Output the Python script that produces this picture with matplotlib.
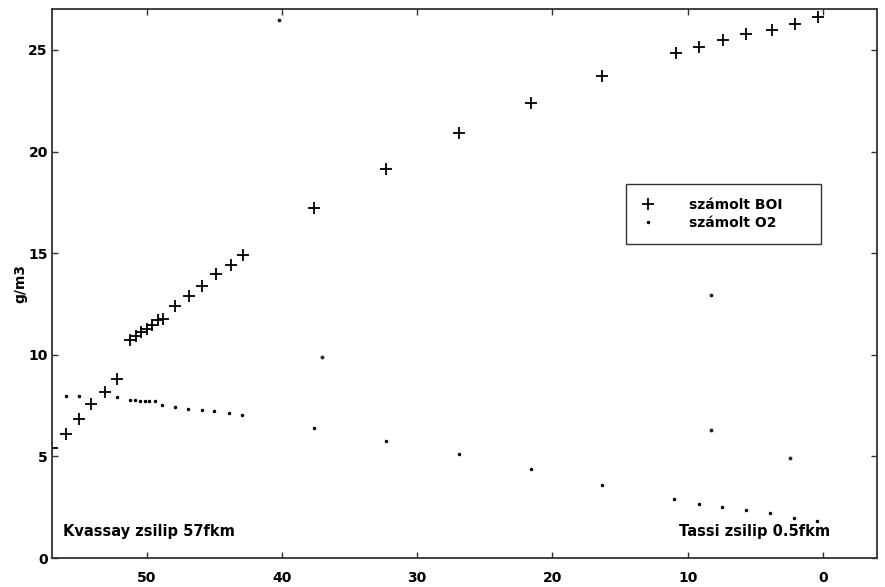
import matplotlib.pyplot as plt

plt.rcParams['font.family'] = ['DejaVu Sans']
plt.rcParams['font.weight'] = 'bold'

# folyamkilometer es szamolt BOI (g/m3)
boi_km = [57.0, 56.0, 55.0, 54.1, 53.1, 52.2,
          51.2, 50.8, 50.4, 50.0, 49.6, 49.2, 48.8,
          47.9, 46.9, 45.9, 44.9, 43.8, 42.85,
          37.6, 32.3, 26.9, 21.6, 16.3, 10.9, 9.2, 7.4, 5.7, 3.8, 2.05, 0.35]
boi = [5.42, 6.1, 6.83, 7.59, 8.18, 8.8,
       10.74, 10.94, 11.1, 11.27, 11.48, 11.69, 11.76,
       12.38, 12.9, 13.37, 13.97, 14.43, 14.93,
       17.2, 19.16, 20.92, 22.4, 23.74, 24.83, 25.14, 25.47, 25.8, 26.0, 26.3, 26.6]

# szamolt oldott oxigen (g/m3)
o2_km = [56.0, 55.0, 52.2,
         51.25, 50.9, 50.5, 50.15, 49.8, 49.4, 48.9,
         47.9, 46.95, 45.9, 45.0, 43.9, 42.95,
         37.6, 32.3, 26.9, 21.6, 16.3, 11.0, 9.2, 7.45, 5.7, 3.9, 2.15, 0.42]
o2 = [7.98, 7.98, 7.9,
      7.75, 7.75, 7.74, 7.74, 7.73, 7.72, 7.52,
      7.42, 7.34, 7.29, 7.21, 7.13, 7.04,
      6.42, 5.78, 5.11, 4.4, 3.6, 2.89, 2.66, 2.53, 2.36, 2.2, 1.96, 1.84]

# egyedi pontok jelmagyarazat nelkul
egyeb_km = [40.2, 37.05, 8.3, 8.3, 2.44]
egyeb = [26.47, 9.9, 12.96, 6.3, 4.93]

fig = plt.figure(figsize=(8.85, 5.87), dpi=100)
ax = fig.add_axes([0.0588, 0.0494, 0.9322, 0.9348])

ax.plot(boi_km, boi, linestyle='none', marker='+', color='black',
        markersize=8.5, markeredgewidth=1.3, label='számolt BOI')
ax.plot(o2_km, o2, linestyle='none', marker='.', color='black',
        markersize=3, label='számolt O2')
ax.plot(egyeb_km, egyeb, linestyle='none', marker='.', color='#222222',
        markersize=3.5)

ax.set_xlim(57, -4)
ax.set_ylim(0, 27)
ax.set_xticks([50, 40, 30, 20, 10, 0])
ax.set_yticks([0, 5, 10, 15, 20, 25])

for side in ['left', 'right', 'top', 'bottom']:
    ax.spines[side].set_color('#333333')
    ax.spines[side].set_linewidth(1.3)
ax.tick_params(direction='in', top=True, right=True, length=4, width=1,
               color='#333333', labelsize=10)
ax.tick_params(axis='x', pad=9)
ax.tick_params(axis='y', pad=3)

ax.set_ylabel('g/m3', fontsize=10, fontweight='bold')
ax.yaxis.set_label_coords(-0.030, 0.5)

ax.text(56.2, 1.3, 'Kvassay zsilip 57fkm', fontsize=10.5, fontweight='bold',
        ha='left', va='center')
ax.text(-0.5, 1.3, 'Tassi zsilip 0.5fkm', fontsize=10.5, fontweight='bold',
        ha='right', va='center')

leg = ax.legend(loc='upper left', bbox_to_anchor=(0.707, 0.5865, 0.221, 0.1),
                bbox_transform=fig.transFigure, mode='expand', borderaxespad=0,
                fancybox=False, edgecolor='black', fontsize=10,
                borderpad=1.0, handlelength=1.2, handletextpad=2.35,
                labelspacing=0.3, markerscale=1.0)
leg.get_frame().set_linewidth(1.0)

fig.savefig('out.png', dpi=100)
